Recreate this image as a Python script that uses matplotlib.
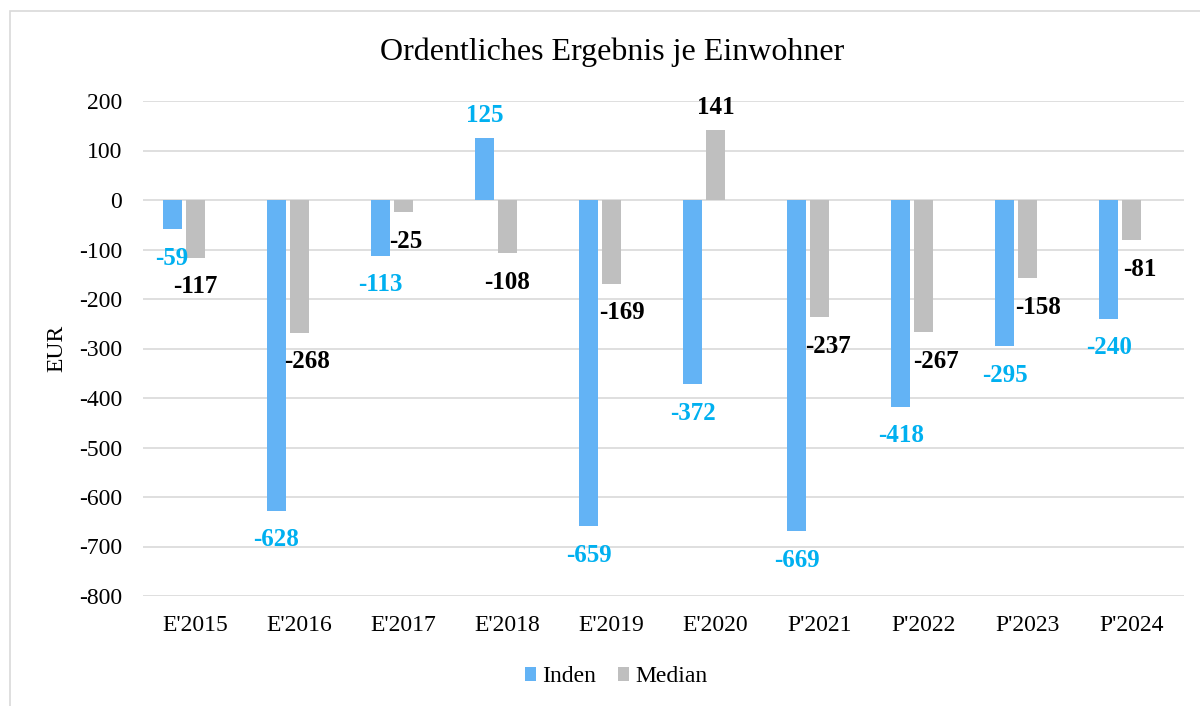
import numpy as np
import matplotlib.pyplot as plt
from matplotlib.patches import Rectangle

plt.rcParams['font.family'] = ['Liberation Serif', 'DejaVu Serif']

# Daten
jahre = ["E'2015", "E'2016", "E'2017", "E'2018", "E'2019",
         "E'2020", "P'2021", "P'2022", "P'2023", "P'2024"]
inden = [-59, -628, -113, 125, -659, -372, -669, -418, -295, -240]
median = [-117, -268, -25, -108, -169, 141, -237, -267, -158, -81]
yticks = list(range(-800, 201, 100))

# kleine Verschiebungen der Median-Beschriftungen (px)
med_nudge = [0, 8, 3, 0, 10, 0, 8, 12, 10, 8]

c_inden = '#63B3F5'
c_median = '#BFBFBF'
c_lab_inden = '#00B0F0'
c_grid = '#D9D9D9'

fig = plt.figure(figsize=(12, 7.06), dpi=100)
ax = fig.add_axes([143 / 1200, 1 - 596 / 706, (1184 - 143) / 1200, (596 - 101) / 706])

x = np.arange(len(jahre))
w = 19 / 104.1
off = 23 / 104.1

b1 = ax.bar(x - off, inden, w, color=c_inden, label='Inden', zorder=3)
b2 = ax.bar(x, median, w, color=c_median, label='Median', zorder=3)


def lab_dy(v):
    # Abstand der Beschriftung vom Balkenende (px)
    return 23 if v > 0 else -29


for i in range(len(jahre)):
    v = inden[i]
    ax.annotate(str(v), (x[i] - off, v), xytext=(0, lab_dy(v)),
                textcoords='offset pixels', ha='center', va='center',
                fontsize=18, fontweight='bold', color=c_lab_inden)
    v = median[i]
    ax.annotate(str(v), (x[i], v), xytext=(med_nudge[i], lab_dy(v)),
                textcoords='offset pixels', ha='center', va='center',
                fontsize=18, fontweight='bold', color='black')

ax.set_xlim(-0.5, len(jahre) - 0.5)
ax.set_ylim(-800, 200)
ax.set_yticks(yticks)
ax.set_yticklabels([str(t) for t in yticks])
ax.set_xticks(x)
ax.set_xticklabels(jahre)
ax.tick_params(axis='both', length=0, labelsize=17)
ax.tick_params(axis='y', pad=15)
ax.tick_params(axis='x', pad=14)
ax.yaxis.grid(True, color=c_grid, lw=1.2, zorder=0)
for s in ax.spines.values():
    s.set_visible(False)

ax.set_ylabel('EUR', fontsize=17)
ax.yaxis.set_label_coords((67 - 143) / 1041, 0.5)

fig.text(612 / 1200, 1 - 52 / 706, 'Ordentliches Ergebnis je Einwohner',
         ha='center', va='center', fontsize=23)

fig.legend(handles=[b1, b2], loc='center', bbox_to_anchor=(616 / 1200, 1 - 677 / 706),
           ncol=2, frameon=False, fontsize=17, handlelength=0.5, handleheight=0.5,
           handletextpad=0.25, columnspacing=0.9)

# Rahmen des Diagramms
fig.patches.append(Rectangle((10 / 1200, -0.1), 1.2, 1 - 11 / 706 + 0.1,
                             transform=fig.transFigure, fill=False,
                             edgecolor=c_grid, lw=1.2))

fig.savefig('out.png', dpi=100)
